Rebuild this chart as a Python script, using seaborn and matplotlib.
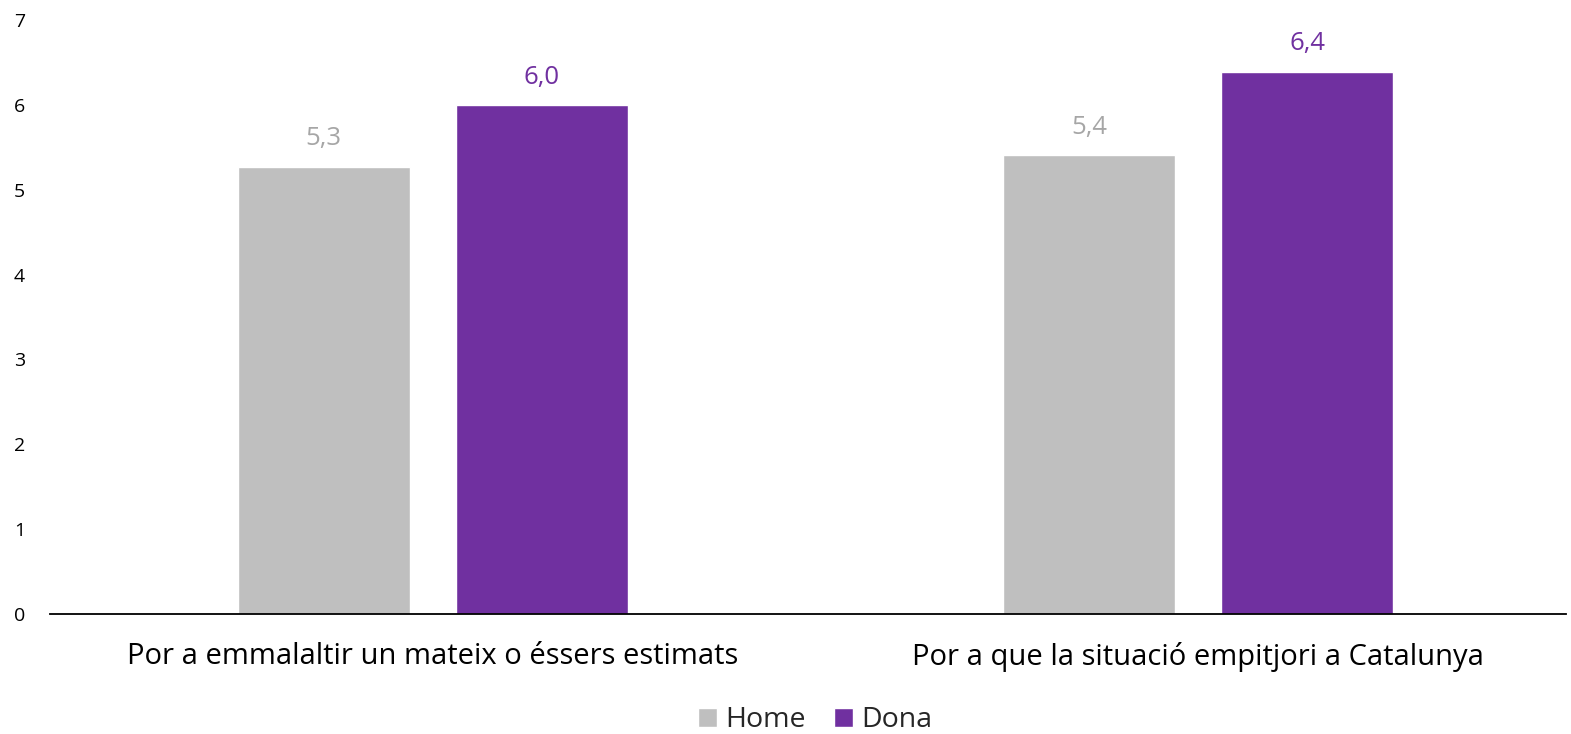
import pandas as pd
import matplotlib
matplotlib.use('Agg')
import matplotlib.pyplot as plt
import seaborn as sns

# Data
categories = ["Por a emmalaltir un mateix o éssers estimats",
              "Por a que la situació empitjori a Catalunya"]
home_values = [5.27, 5.41]
dona_values = [6.0, 6.39]
series_names = ["Home", "Dona"]
colors = {"Home": "#BFBFBF", "Dona": "#7030A0"}
label_colors = {"Home": "#A6A6A6", "Dona": "#7030A0"}

df = pd.DataFrame({
    "categoria": categories * 2,
    "serie": [series_names[0]] * 2 + [series_names[1]] * 2,
    "valor": home_values + dona_values,
})

sns.set_theme(style="white")
plt.rcParams['font.family'] = ['Open Sans', 'DejaVu Sans']

fig = plt.figure(figsize=(15.71, 7.34), dpi=100)
ax = fig.add_axes([0.0318, 0.1635, 0.9648, 0.8093])

sns.barplot(data=df, x="categoria", y="valor", hue="serie", palette=colors,
            width=0.5696, gap=0.211, ax=ax, saturation=1, errorbar=None)

# Data labels
for container, name in zip(ax.containers, series_names):
    labels = [f"{v:.1f}".replace(".", ",") for v in container.datavalues]
    ax.bar_label(container, labels=labels, padding=11, fontsize=18.5,
                 color=label_colors[name])

ax.set_ylim(0, 7)
ax.set_yticks(range(0, 8))
ax.set_xlim(-0.5, 1.48)
ax.set_xlabel("")
ax.set_ylabel("")
ax.tick_params(axis='y', labelsize=14, length=0, pad=18, colors='black')
ax.tick_params(axis='x', labelsize=21, length=0, pad=20, colors='black')

for side in ["left", "right", "top"]:
    ax.spines[side].set_visible(False)
ax.spines["bottom"].set_color("black")
ax.spines["bottom"].set_linewidth(1.3)

ax.legend(loc="upper center", bbox_to_anchor=(0.505, -0.122), ncol=2, frameon=False,
          fontsize=20.5, handlelength=0.65, handleheight=0.65, handletextpad=0.3,
          columnspacing=1.0, borderpad=0.2)

plt.savefig("out.png", dpi=100)
plt.close()
